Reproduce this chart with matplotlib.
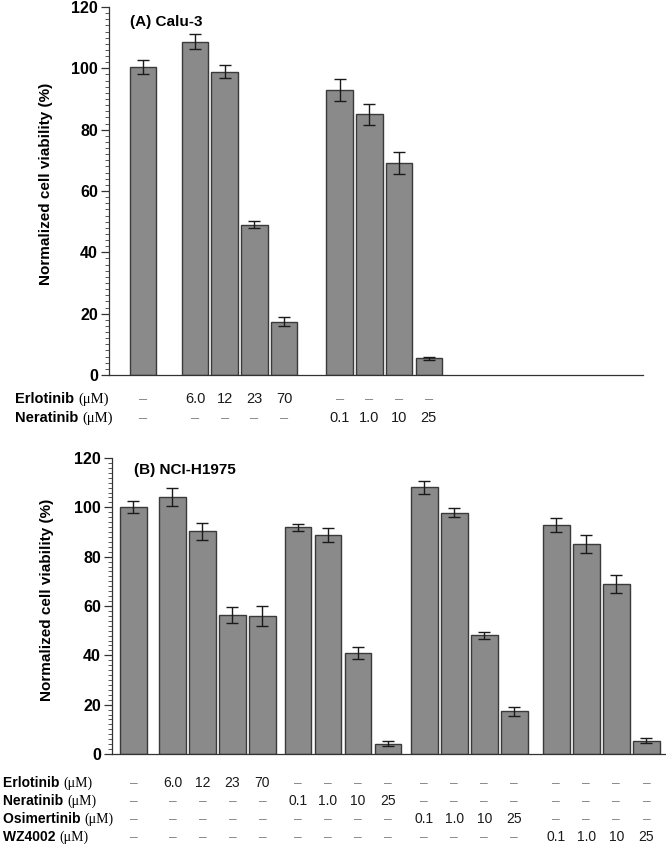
import numpy as np
import matplotlib
matplotlib.use("Agg")
import matplotlib.pyplot as plt
from matplotlib import font_manager, transforms
from matplotlib.ticker import MultipleLocator

# ---- data ----
calu3_vals = [100.4, 108.7, 98.9, 49.0, 17.4, 93.0, 85.0, 69.2, 5.4]
calu3_err = [2.2, 2.5, 2.1, 1.1, 1.5, 3.5, 3.5, 3.5, 0.5]
calu3_groups = [1, 4, 4]

h1975_vals = [100.2, 104.2, 90.3, 56.2, 55.9,
              91.9, 88.8, 40.9, 4.2,
              108.1, 97.8, 48.1, 17.3,
              92.8, 85.0, 68.9, 5.3]
h1975_err = [2.5, 3.7, 3.4, 3.2, 4.1,
             1.4, 3.0, 2.3, 1.0,
             2.7, 1.75, 1.4, 1.75,
             3.0, 3.6, 3.6, 1.0]
h1975_groups = [1, 4, 4, 4, 4]

D = "\u2013"
calu3_rows = ["Erlotinib", "Neratinib"]
calu3_table = [
    [D, "6.0", "12", "23", "70", D, D, D, D],
    [D, D, D, D, D, "0.1", "1.0", "10", "25"],
]
h1975_rows = ["Erlotinib", "Neratinib", "Osimertinib", "WZ4002"]
h1975_table = [
    [D, "6.0", "12", "23", "70"] + [D] * 12,
    [D] * 5 + ["0.1", "1.0", "10", "25"] + [D] * 8,
    [D] * 9 + ["0.1", "1.0", "10", "25"] + [D] * 4,
    [D] * 13 + ["0.1", "1.0", "10", "25"],
]

names = {f.name for f in font_manager.fontManager.ttflist}
narrow = "Liberation Sans Narrow" if "Liberation Sans Narrow" in names else "Liberation Sans"
plt.rcParams["font.family"] = ["Liberation Sans", "DejaVu Sans"]

W, H = 666, 844
fig = plt.figure(figsize=(W / 100, H / 100), dpi=100)


def positions(sizes, gaps):
    pos = []
    x = 0.0
    for i, n in enumerate(sizes):
        if i > 0:
            x += gaps[i - 1]
        for _ in range(n):
            pos.append(x)
            x += 1
    return np.array(pos)


def px_axes(left, right, bottom, top):
    return fig.add_axes([left / W, 1 - bottom / H, (right - left) / W, (bottom - top) / H])


def panel(ax, x, vals, err, title, xlim):
    ax.bar(x, vals, width=0.89, color="#8a8a8a", edgecolor="#3a3a3a", linewidth=1.0, zorder=2)
    ax.errorbar(x, vals, yerr=err, fmt="none", ecolor="#1a1a1a", elinewidth=1.0,
                capsize=4, capthick=1.0, zorder=3)
    ax.set_ylim(0, 120)
    ax.set_xlim(*xlim)
    ax.yaxis.set_major_locator(MultipleLocator(20))
    ax.yaxis.set_minor_locator(MultipleLocator(2))
    ax.tick_params(axis="y", which="major", length=6, width=0.9, color="#333333",
                   labelsize=11.5, pad=2)
    ax.tick_params(axis="y", which="minor", length=3, width=0.7, color="#555555")
    ax.tick_params(axis="x", bottom=False, labelbottom=False)
    for lab in ax.get_yticklabels():
        lab.set_fontweight("bold")
    for s in ["top", "right"]:
        ax.spines[s].set_visible(False)
    for s in ["left", "bottom"]:
        ax.spines[s].set_linewidth(0.9)
        ax.spines[s].set_color("#333333")
    ax.set_ylabel("Normalized cell viability (%)", fontsize=11, fontweight="bold")
    ax.yaxis.set_label_coords(-0.105, 0.52)
    ax.text(0.04, 0.958, title, transform=ax.transAxes, fontsize=11,
            fontweight="bold", va="center", ha="left")


def table(ax, x, rows, table, ys, label_x, family, size):
    tr = transforms.blended_transform_factory(ax.transData, fig.transFigure)
    for name, cells, y in zip(rows, table, ys):
        yf = 1 - y / H
        t = fig.text(label_x / W, yf, name + " ", fontsize=size, fontweight="bold",
                     family=family, va="center", ha="left")
        ax.annotate("(\u03bcM)", xy=(1, 0.5), xycoords=t, va="center", ha="left",
                    fontsize=size, family="Liberation Serif", annotation_clip=False)
        for xi, c in zip(x, cells):
            col = "#8a8a8a" if c == D else "#1a1a1a"
            ax.text(xi, yf, c, transform=tr, fontsize=size, family=family,
                    ha="center", va="center", color=col, clip_on=False)


# ---- panel A ----
axA = px_axes(109, 643, 375, 7)
xA = positions(calu3_groups, [0.75, 0.87])
panel(axA, xA, calu3_vals, calu3_err, "(A) Calu-3", (-1.145, 16.83))
table(axA, xA, calu3_rows, calu3_table, [399, 418], 15, "Liberation Sans", 10.5)

# ---- panel B ----
axB = px_axes(112, 665, 754, 458)
xB = positions(h1975_groups, [0.30, 0.18, 0.21, 0.40])
panel(axB, xB, h1975_vals, h1975_err, "(B) NCI-H1975", (-0.713, 17.71))
table(axB, xB, h1975_rows, h1975_table, [783, 801, 819, 837], 3, narrow, 10)

fig.savefig("out.png", dpi=100)
